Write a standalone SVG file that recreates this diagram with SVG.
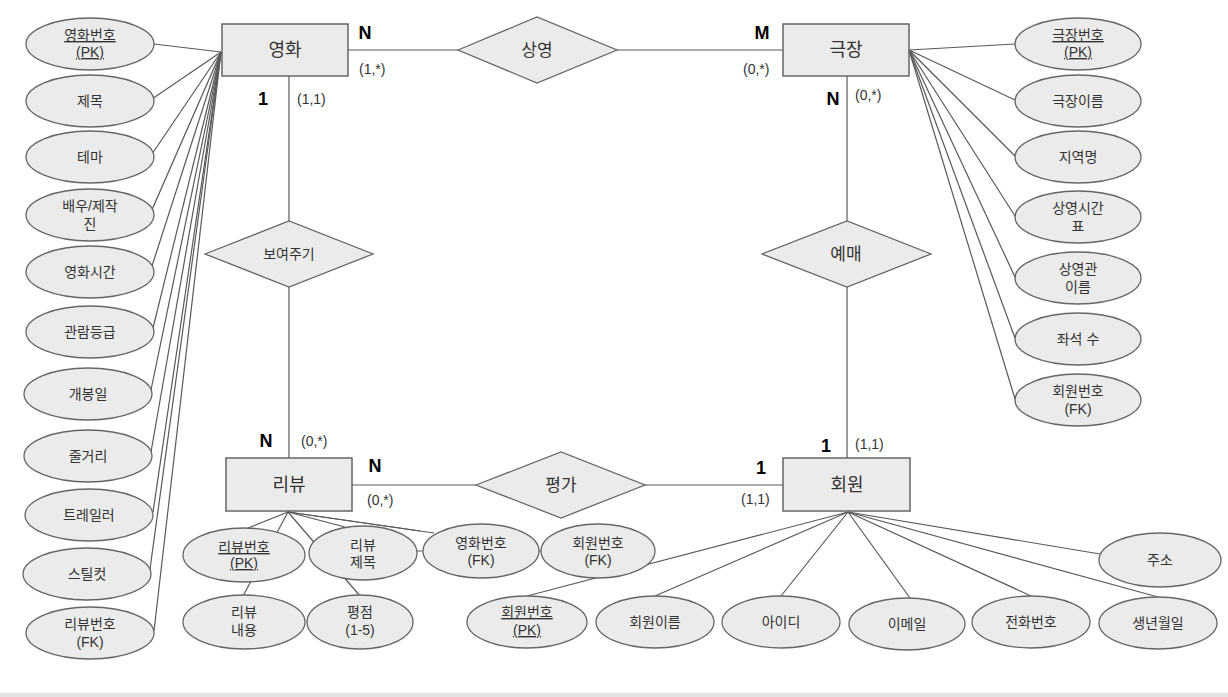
<svg xmlns="http://www.w3.org/2000/svg" width="1228" height="697" viewBox="0 0 1228 697">
<style>
.ent{fill:#ebebeb;stroke:#666;stroke-width:1.5}
.rel{fill:#ebebeb;stroke:#666;stroke-width:1.3}
.att{fill:#ebebeb;stroke:#666;stroke-width:1.3}
.ln{stroke:#595959;stroke-width:1.2;fill:none}
text{font-family:"Liberation Sans","Noto Sans CJK KR",sans-serif;fill:#333;text-anchor:middle}
.et{font-size:18px}
.rt{font-size:17px}
.rs{font-size:14px}
.at{font-size:14px}
.u{text-decoration:underline}
.card{font-size:18px;font-weight:bold;fill:#000}
.mul{font-size:14px;text-anchor:start}
</style>
<rect x="0" y="0" width="1228" height="697" fill="#fff"/>
<rect x="0" y="693" width="1228" height="4" fill="#e3e3e3"/>

<g id="connectors">
<!-- relationships -->
<line class="ln" x1="348" y1="50" x2="458" y2="50"/>
<line class="ln" x1="617" y1="50" x2="783" y2="50"/>
<line class="ln" x1="289" y1="76" x2="289" y2="221"/>
<line class="ln" x1="289" y1="287" x2="289" y2="458"/>
<line class="ln" x1="847" y1="76" x2="847" y2="221"/>
<line class="ln" x1="847" y1="287" x2="847" y2="458"/>
<line class="ln" x1="352" y1="485" x2="476" y2="485"/>
<line class="ln" x1="645" y1="485" x2="783" y2="485"/>
<!-- 영화 attributes -->
<line class="ln" x1="221" y1="52" x2="154" y2="44"/>
<line class="ln" x1="221" y1="52" x2="152" y2="99"/>
<line class="ln" x1="221" y1="52" x2="152" y2="154"/>
<line class="ln" x1="221" y1="52" x2="151" y2="212"/>
<line class="ln" x1="221" y1="52" x2="152" y2="266"/>
<line class="ln" x1="221" y1="52" x2="153" y2="328"/>
<line class="ln" x1="221" y1="52" x2="151" y2="390"/>
<line class="ln" x1="221" y1="52" x2="151" y2="452"/>
<line class="ln" x1="221" y1="52" x2="153" y2="512"/>
<line class="ln" x1="221" y1="52" x2="150" y2="569"/>
<line class="ln" x1="221" y1="52" x2="154" y2="631"/>
<!-- 극장 attributes -->
<line class="ln" x1="909" y1="50" x2="1015" y2="44"/>
<line class="ln" x1="909" y1="50" x2="1015" y2="100"/>
<line class="ln" x1="909" y1="50" x2="1015" y2="156"/>
<line class="ln" x1="909" y1="50" x2="1015" y2="216"/>
<line class="ln" x1="909" y1="50" x2="1015" y2="277"/>
<line class="ln" x1="909" y1="50" x2="1015" y2="338"/>
<line class="ln" x1="909" y1="50" x2="1015" y2="399"/>
<!-- 리뷰 attributes -->
<line class="ln" x1="288" y1="512" x2="248" y2="528"/>
<line class="ln" x1="288" y1="512" x2="243" y2="596"/>
<line class="ln" x1="288" y1="512" x2="360" y2="596"/>
<line class="ln" x1="288" y1="512" x2="345" y2="527"/>
<line class="ln" x1="288" y1="512" x2="420" y2="531"/>
<line class="ln" x1="288" y1="512" x2="434" y2="533"/>
<line class="ln" x1="363" y1="551" x2="598" y2="551"/>
<!-- 회원 attributes -->
<line class="ln" x1="848" y1="512" x2="527" y2="596"/>
<line class="ln" x1="848" y1="512" x2="655" y2="596"/>
<line class="ln" x1="848" y1="512" x2="781" y2="596"/>
<line class="ln" x1="848" y1="512" x2="910" y2="598"/>
<line class="ln" x1="848" y1="512" x2="1031" y2="596"/>
<line class="ln" x1="848" y1="512" x2="1158" y2="597"/>
<line class="ln" x1="848" y1="512" x2="1100" y2="554"/>
</g>

<!-- entities -->
<g id="movie"><rect class="ent" x="222" y="24" width="126" height="52"/><text class="et" x="285" y="56">영화</text></g>
<g id="theater"><rect class="ent" x="783" y="24" width="126" height="52"/><text class="et" x="846" y="56">극장</text></g>
<g id="review"><rect class="ent" x="226" y="458" width="126" height="53"/><text class="et" x="289" y="491">리뷰</text></g>
<g id="member"><rect class="ent" x="783" y="458" width="127" height="53"/><text class="et" x="847" y="491">회원</text></g>

<!-- relationships -->
<g id="screening"><polygon class="rel" points="458,50 537,17 617,50 537,83"/><text class="rt" x="537" y="56">상영</text></g>
<g id="showing"><polygon class="rel" points="205,254 289,221 373,254 289,287"/><text class="rs" x="289" y="259">보여주기</text></g>
<g id="booking"><polygon class="rel" points="762,254 847,221 931,254 847,287"/><text class="rt" x="846" y="260">예매</text></g>
<g id="rating"><polygon class="rel" points="476,485 561,452 645,485 561,518"/><text class="rt" x="561" y="491">평가</text></g>

<!-- cardinality labels -->
<g id="labels">
<text class="card" x="365" y="39">N</text><text class="mul" x="359" y="74">(1,*)</text>
<text class="card" x="762" y="39">M</text><text class="mul" x="743" y="74">(0,*)</text>
<text class="card" x="263" y="105">1</text><text class="mul" x="297" y="104">(1,1)</text>
<text class="card" x="833" y="105">N</text><text class="mul" x="855" y="100">(0,*)</text>
<text class="card" x="266" y="447">N</text><text class="mul" x="301" y="446">(0,*)</text>
<text class="card" x="375" y="472">N</text><text class="mul" x="367" y="505">(0,*)</text>
<text class="card" x="826" y="452">1</text><text class="mul" x="855" y="449">(1,1)</text>
<text class="card" x="761" y="474">1</text><text class="mul" x="741" y="504">(1,1)</text>
</g>

<!-- 영화 attributes -->
<g id="a-movie-no"><ellipse class="att" cx="90" cy="44" rx="64" ry="26"/><text class="at u" x="90" y="40">영화번호</text><text class="at u" x="90" y="57">(PK)</text></g>
<g id="a-title"><ellipse class="att" cx="90" cy="101" rx="64" ry="26"/><text class="at" x="90" y="106">제목</text></g>
<g id="a-theme"><ellipse class="att" cx="90" cy="157" rx="64" ry="26"/><text class="at" x="90" y="162">테마</text></g>
<g id="a-cast"><ellipse class="att" cx="90" cy="215" rx="64" ry="26"/><text class="at" x="90" y="211">배우/제작</text><text class="at" x="90" y="229">진</text></g>
<g id="a-runtime"><ellipse class="att" cx="90" cy="272" rx="64" ry="26"/><text class="at" x="90" y="277">영화시간</text></g>
<g id="a-rating"><ellipse class="att" cx="90" cy="332" rx="64" ry="26"/><text class="at" x="90" y="337">관람등급</text></g>
<g id="a-release"><ellipse class="att" cx="88" cy="394" rx="64" ry="26"/><text class="at" x="88" y="399">개봉일</text></g>
<g id="a-plot"><ellipse class="att" cx="88" cy="456" rx="64" ry="26"/><text class="at" x="88" y="461">줄거리</text></g>
<g id="a-trailer"><ellipse class="att" cx="89" cy="515" rx="64" ry="26"/><text class="at" x="89" y="520">트레일러</text></g>
<g id="a-still"><ellipse class="att" cx="87" cy="574" rx="64" ry="26"/><text class="at" x="87" y="579">스틸컷</text></g>
<g id="a-review-fk"><ellipse class="att" cx="90" cy="633" rx="64" ry="26"/><text class="at" x="90" y="629">리뷰번호</text><text class="at" x="90" y="647">(FK)</text></g>

<!-- 극장 attributes -->
<g id="a-theater-no"><ellipse class="att" cx="1078" cy="44" rx="63" ry="26"/><text class="at u" x="1078" y="40">극장번호</text><text class="at u" x="1078" y="57">(PK)</text></g>
<g id="a-theater-name"><ellipse class="att" cx="1078" cy="101" rx="63" ry="26"/><text class="at" x="1078" y="106">극장이름</text></g>
<g id="a-region"><ellipse class="att" cx="1078" cy="157" rx="63" ry="26"/><text class="at" x="1078" y="162">지역명</text></g>
<g id="a-timetable"><ellipse class="att" cx="1078" cy="217" rx="63" ry="26"/><text class="at" x="1078" y="213">상영시간</text><text class="at" x="1078" y="231">표</text></g>
<g id="a-hall"><ellipse class="att" cx="1078" cy="278" rx="63" ry="26"/><text class="at" x="1078" y="274">상영관</text><text class="at" x="1078" y="292">이름</text></g>
<g id="a-seats"><ellipse class="att" cx="1078" cy="339" rx="63" ry="26"/><text class="at" x="1078" y="344">좌석 수</text></g>
<g id="a-member-fk1"><ellipse class="att" cx="1078" cy="400" rx="63" ry="26"/><text class="at" x="1078" y="396">회원번호</text><text class="at" x="1078" y="414">(FK)</text></g>

<!-- 리뷰 attributes -->
<g id="a-review-no"><ellipse class="att" cx="244" cy="555" rx="61" ry="27"/><text class="at u" x="244" y="552">리뷰번호</text><text class="at u" x="244" y="568">(PK)</text></g>
<g id="a-review-title"><ellipse class="att" cx="363" cy="553" rx="54" ry="27"/><text class="at" x="363" y="550">리뷰</text><text class="at" x="363" y="567">제목</text></g>
<g id="a-movie-fk"><ellipse class="att" cx="481" cy="551" rx="58" ry="27"/><text class="at" x="481" y="548">영화번호</text><text class="at" x="481" y="565">(FK)</text></g>
<g id="a-member-fk2"><ellipse class="att" cx="598" cy="551" rx="57" ry="27"/><text class="at" x="598" y="548">회원번호</text><text class="at" x="598" y="565">(FK)</text></g>
<g id="a-review-body"><ellipse class="att" cx="244" cy="622" rx="61" ry="27"/><text class="at" x="244" y="617">리뷰</text><text class="at" x="244" y="635">내용</text></g>
<g id="a-score"><ellipse class="att" cx="360" cy="622" rx="53" ry="27"/><text class="at" x="360" y="617">평점</text><text class="at" x="360" y="635">(1-5)</text></g>

<!-- 회원 attributes -->
<g id="a-member-no"><ellipse class="att" cx="527" cy="622" rx="60" ry="26"/><text class="at u" x="527" y="617">회원번호</text><text class="at u" x="527" y="635">(PK)</text></g>
<g id="a-member-name"><ellipse class="att" cx="655" cy="622" rx="59" ry="26"/><text class="at" x="655" y="627">회원이름</text></g>
<g id="a-id"><ellipse class="att" cx="781" cy="622" rx="59" ry="26"/><text class="at" x="781" y="627">아이디</text></g>
<g id="a-email"><ellipse class="att" cx="907" cy="624" rx="58" ry="26"/><text class="at" x="907" y="629">이메일</text></g>
<g id="a-phone"><ellipse class="att" cx="1031" cy="622" rx="59" ry="26"/><text class="at" x="1031" y="627">전화번호</text></g>
<g id="a-birth"><ellipse class="att" cx="1158" cy="623" rx="59" ry="26"/><text class="at" x="1158" y="628">생년월일</text></g>
<g id="a-address"><ellipse class="att" cx="1160" cy="560" rx="61" ry="27"/><text class="at" x="1160" y="565">주소</text></g>
</svg>
